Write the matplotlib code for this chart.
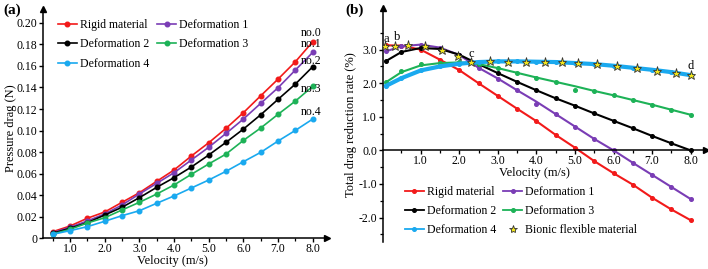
import matplotlib.pyplot as plt
from matplotlib.lines import Line2D
from matplotlib.ticker import MultipleLocator, FuncFormatter

plt.rcParams['font.family'] = 'Liberation Serif'

# ---- panel (a): pressure drag ----
vel_a = [0.5, 1.0, 1.5, 2.0, 2.5, 3.0, 3.5, 4.0, 4.5, 5.0, 5.5, 6.0, 6.5, 7.0, 7.5, 8.0]
rigid_a = [0.0061, 0.0114, 0.0186, 0.0244, 0.0334, 0.0423, 0.0529, 0.0634,
           0.0764, 0.0887, 0.1021, 0.1166, 0.1323, 0.1478, 0.1639, 0.1825]
def1_a = [0.0052, 0.0102, 0.0161, 0.0226, 0.0309, 0.0411, 0.0510, 0.0609,
          0.0727, 0.0845, 0.0974, 0.1107, 0.1253, 0.1398, 0.1562, 0.1726]
def2_a = [0.0046, 0.0093, 0.0145, 0.0216, 0.0288, 0.0377, 0.0473, 0.0563,
          0.0662, 0.0773, 0.0891, 0.1014, 0.1147, 0.1290, 0.1432, 0.1593]
def3_a = [0.0040, 0.0083, 0.0142, 0.0191, 0.0263, 0.0334, 0.0411, 0.0495,
          0.0594, 0.0690, 0.0782, 0.0909, 0.1024, 0.1151, 0.1274, 0.1411]
def4_a = [0.0037, 0.0071, 0.0108, 0.0158, 0.0210, 0.0256, 0.0325, 0.0393,
          0.0467, 0.0541, 0.0622, 0.0711, 0.0798, 0.0903, 0.1002, 0.1107]
end_labels = ["no.0", "no.1", "no.2", "no.3", "no.4"]
end_label_y = [0.1903, 0.1800, 0.1646, 0.1383, 0.1169]

# ---- panel (b): total drag reduction rate ----
vel_b = [0.1, 0.5, 1.0, 1.5, 2.0, 2.5, 3.0, 3.5, 4.0, 4.5, 5.0, 5.5, 6.0, 6.5, 7.0, 7.5, 8.0]
rigid_b = [3.13, 3.12, 3.00, 2.70, 2.39, 2.00, 1.62, 1.24, 0.87, 0.46, 0.08,
           -0.32, -0.68, -1.02, -1.41, -1.76, -2.08]
def1_b = [2.95, 3.10, 3.15, 3.06, 2.84, 2.46, 2.14, 1.79, 1.45, 1.08, 0.71,
          0.34, 0.00, -0.37, -0.73, -1.09, -1.45]
def2_b = [2.66, 2.93, 3.05, 3.02, 2.85, 2.57, 2.30, 2.04, 1.79, 1.55, 1.33,
          1.10, 0.88, 0.66, 0.43, 0.21, 0.00]
def3_b = [2.03, 2.33, 2.53, 2.60, 2.62, 2.57, 2.45, 2.31, 2.17, 2.04, 1.91,
          1.77, 1.64, 1.50, 1.36, 1.21, 1.06]
def4_b = [1.92, 2.15, 2.38, 2.50, 2.58, 2.63, 2.65, 2.65, 2.64, 2.63, 2.60,
          2.57, 2.52, 2.46, 2.40, 2.33, 2.24]
# measured dots (a couple sit off the fitted line)
def1_b_pts = [2.95, 3.10, 3.15, 3.06, 2.84, 2.46, 2.14, 1.79, 1.37, 1.08, 0.71,
              0.34, 0.00, -0.37, -0.73, -1.09, -1.45]
def3_b_pts = [2.03, 2.37, 2.56, 2.60, 2.62, 2.57, 2.45, 2.31, 2.17, 2.04, 1.79,
              1.77, 1.64, 1.50, 1.36, 1.21, 1.06]
bionic_v = [0.07, 0.33, 0.68, 1.11, 1.56, 1.97, 2.30, 2.80, 3.26, 3.73, 4.22,
            4.66, 5.09, 5.58, 6.08, 6.62, 7.12, 7.62, 8.0]
bionic_rate = [3.11, 3.10, 3.15, 3.12, 2.99, 2.81, 2.62, 2.65, 2.64, 2.64, 2.62,
               2.62, 2.59, 2.56, 2.51, 2.44, 2.37, 2.31, 2.23]
point_names = ["a", "b", "c", "d"]
point_pos = [(0.11, 3.33), (0.38, 3.38), (2.30, 2.86), (8.0, 2.52)]

names = ["Rigid material", "Deformation 1", "Deformation 2", "Deformation 3", "Deformation 4"]
colors = ["#f21a1a", "#7a3db5", "#000000", "#1db257", "#1aa9ef"]

W, H = 708, 269
fig = plt.figure(figsize=(W / 100, H / 100), dpi=100)
FS = 8.5


def style_axes(ax):
    for s in ["top", "right"]:
        ax.spines[s].set_visible(False)
    for s in ["left", "bottom"]:
        ax.spines[s].set_linewidth(1.1)
    ax.tick_params(which="major", direction="out", length=3, width=1.0,
                   labelsize=FS, pad=1.5)
    ax.tick_params(axis="x", which="major", pad=0.5)
    ax.tick_params(which="minor", direction="out", length=2, width=0.9)
    ax.patch.set_alpha(0)


# panel (a)
ax = fig.add_axes([43.3 / W, (H - 238.3) / H, (327 - 43.3) / W, (238.3 - 8.8) / H])
series_a = [rigid_a, def1_a, def2_a, def3_a, def4_a]
lines_a = []
for vals, c, n in zip(series_a, colors, names):
    ln, = ax.plot(vel_a, vals, "-o", color=c, lw=1.2, ms=3.3, label=n)
    lines_a.append(ln)
for lab, yy in zip(end_labels, end_label_y):
    ax.text(7.94, yy, lab, fontsize=FS, ha="center", va="center")
ax.set_xlim(0.23, 8.41)
ax.set_ylim(0, 0.213)
ax.set_xticks([1, 2, 3, 4, 5, 6, 7, 8])
ax.xaxis.set_minor_locator(MultipleLocator(0.5))
ax.set_yticks([0, 0.02, 0.04, 0.06, 0.08, 0.10, 0.12, 0.14, 0.16, 0.18, 0.20])
ax.xaxis.set_major_formatter(FuncFormatter(lambda v, p: f"{v:.1f}"))
ax.yaxis.set_major_formatter(FuncFormatter(lambda v, p: "0" if v == 0 else f"{v:.2f}"))
style_axes(ax)
ax.plot(1, 0, ">k", ms=4, transform=ax.transAxes, clip_on=False)
ax.plot(0, 1, "^k", ms=4, transform=ax.transAxes, clip_on=False)
fig.text(172 / W, 1 - 261 / H, "Velocity (m/s)", fontsize=9, ha="center", va="center")
fig.text(11 / W, 1 - 128 / H, "Pressure drag (N)", fontsize=9, rotation=90,
         ha="center", va="center")
order_a = [0, 2, 4, 1, 3]
ax.legend([lines_a[i] for i in order_a], [names[i] for i in order_a], ncol=2,
          fontsize=FS, frameon=False, loc="upper left",
          bbox_to_anchor=(58 / W, 1 - 19 / H), bbox_transform=fig.transFigure,
          handlelength=1.6, handletextpad=0.25, columnspacing=0.7,
          labelspacing=0.62, borderpad=0, borderaxespad=0)
fig.text(12 / W, 1 - 10 / H, "(a)", fontsize=11, fontweight="bold",
         ha="center", va="center")

# panel (b)
ax = fig.add_axes([383.3 / W, (H - 241.7) / H, (705.7 - 383.3) / W, (241.7 - 8) / H])
series_b = [rigid_b, def1_b, def2_b, def3_b, def4_b]
dots_b = [rigid_b, def1_b_pts, def2_b, def3_b_pts, def4_b]
widths = [1.5, 1.5, 1.5, 1.5, 3.0]
for vals, pts, c, lw in zip(series_b, dots_b, colors, widths):
    ax.plot(vel_b, vals, "-", color=c, lw=lw)
    ax.plot(vel_b, pts, "o", color=c, ms=2.6, ls="none")
ax.plot(bionic_v, bionic_rate, "*", ms=6.5, mfc="#f2e61c", mec="#333333", mew=0.6,
        ls="none", zorder=5)
for lab, (px, py) in zip(point_names, point_pos):
    ax.text(px, py, lab, fontsize=9, ha="center", va="center")
ax.set_xlim(0.03, 8.39)
ax.set_ylim(-2.72, 4.24)
ax.spines["bottom"].set_position(("data", 0))
ax.set_xticks([1, 2, 3, 4, 5, 6, 7, 8])
ax.xaxis.set_minor_locator(MultipleLocator(0.5))
ax.set_yticks([-2, -1, 0, 1, 2, 3])
ax.set_yticks([-2.5, -1.5, -0.5, 0.5, 1.5, 2.5, 3.5], minor=True)
ax.xaxis.set_major_formatter(FuncFormatter(lambda v, p: f"{v:.1f}"))
ax.yaxis.set_major_formatter(FuncFormatter(lambda v, p: f"{v:.1f}"))
style_axes(ax)
ax.plot(1, 0, ">k", ms=4, transform=ax.get_yaxis_transform(), clip_on=False)
ax.plot(0, 1, "^k", ms=4, transform=ax.transAxes, clip_on=False)
ax.text(3.94, -0.66, "Velocity (m/s)", fontsize=9, ha="center", va="center")
fig.text(351 / W, 1 - 125 / H, "Total drag reduction rate (%)", fontsize=9,
         rotation=90, ha="center", va="center")
handles = [Line2D([], [], color=c, lw=1.3, marker="o", ms=2.6) for c in colors]
handles.append(Line2D([], [], ls="none", marker="*", ms=6, mfc="#f2e61c",
                      mec="#333333", mew=0.6))
labels_b = names + ["Bionic flexible material"]
order_b = [0, 2, 4, 1, 3, 5]
ax.legend([handles[i] for i in order_b], [labels_b[i] for i in order_b], ncol=2,
          fontsize=FS, frameon=False, loc="upper left",
          bbox_to_anchor=(405 / W, 1 - 186 / H), bbox_transform=fig.transFigure,
          handlelength=1.6, handletextpad=0.25, columnspacing=0.6,
          labelspacing=0.6, borderpad=0, borderaxespad=0)
fig.text(355 / W, 1 - 10 / H, "(b)", fontsize=11, fontweight="bold",
         ha="center", va="center")

fig.savefig("out.png", dpi=100)
